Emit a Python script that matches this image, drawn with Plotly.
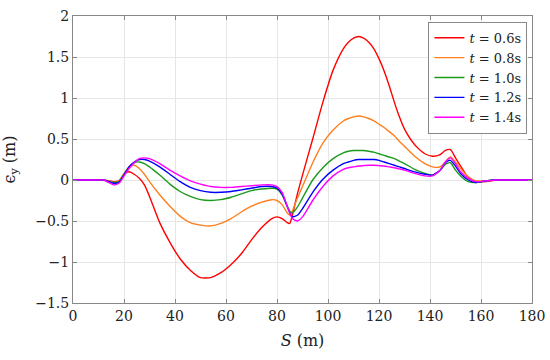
import plotly.graph_objects as go

S = [0, 10, 12, 14, 16, 18, 20, 22, 24, 26, 28, 30, 34, 38, 42, 46, 50, 54, 58, 62, 66, 70, 74, 78,
     80, 82, 84, 85, 86, 88, 90, 94, 98, 102, 106, 108, 110, 112, 114, 116, 118, 120, 122, 124, 126, 128, 130, 134, 138,
     141, 144, 146, 148, 150, 152, 155, 158, 162, 166, 170, 180]

e_06 = [0, 0, 0, -0.01, -0.02, -0.01, 0.07, 0.10, 0.07, 0.02, -0.06, -0.20, -0.52, -0.76, -0.96, -1.10, -1.19, -1.19, -1.13, -1.03, -0.90, -0.73, -0.58, -0.47,
        -0.45, -0.47, -0.52, -0.53, -0.43, -0.17, 0.06, 0.50, 0.95, 1.34, 1.60, 1.68, 1.73, 1.75, 1.73, 1.68, 1.60, 1.48, 1.33, 1.15, 0.95, 0.77, 0.62, 0.43, 0.32,
        0.29, 0.31, 0.36, 0.37, 0.27, 0.17, 0.03, -0.02, -0.02, 0, 0, 0]
e_08 = [0, 0, 0, -0.01, -0.03, -0.01, 0.08, 0.16, 0.18, 0.14, 0.07, -0.02, -0.18, -0.32, -0.44, -0.52, -0.55, -0.56, -0.53, -0.47, -0.39, -0.32, -0.27, -0.24,
        -0.25, -0.30, -0.40, -0.43, -0.38, -0.22, -0.08, 0.21, 0.45, 0.61, 0.72, 0.75, 0.77, 0.78, 0.77, 0.75, 0.72, 0.68, 0.64, 0.59, 0.54, 0.47, 0.41, 0.29, 0.20,
        0.16, 0.16, 0.22, 0.28, 0.22, 0.14, 0.04, -0.01, -0.01, 0, 0, 0]
e_10 = [0, 0, 0, -0.02, -0.03, -0.02, 0.07, 0.16, 0.21, 0.22, 0.20, 0.16, 0.06, -0.05, -0.14, -0.20, -0.24, -0.25, -0.24, -0.21, -0.17, -0.13, -0.11, -0.10,
        -0.11, -0.18, -0.32, -0.38, -0.40, -0.33, -0.22, 0.00, 0.15, 0.26, 0.33, 0.35, 0.36, 0.36, 0.36, 0.35, 0.34, 0.32, 0.30, 0.28, 0.26, 0.23, 0.20, 0.13, 0.08,
        0.06, 0.12, 0.19, 0.21, 0.12, 0.05, -0.02, -0.03, -0.01, 0, 0, 0]
e_12 = [0, 0, 0, -0.02, -0.04, -0.03, 0.06, 0.16, 0.22, 0.25, 0.25, 0.23, 0.16, 0.07, -0.02, -0.09, -0.13, -0.15, -0.15, -0.14, -0.12, -0.10, -0.08, -0.08,
        -0.10, -0.17, -0.32, -0.40, -0.45, -0.43, -0.35, -0.15, 0.01, 0.12, 0.20, 0.22, 0.24, 0.25, 0.25, 0.25, 0.25, 0.24, 0.22, 0.20, 0.18, 0.16, 0.14, 0.10, 0.07,
        0.06, 0.12, 0.21, 0.24, 0.17, 0.08, 0.00, -0.03, -0.01, 0, 0, 0]
e_14 = [0, 0, 0, -0.03, -0.06, -0.04, 0.05, 0.14, 0.21, 0.26, 0.27, 0.26, 0.20, 0.12, 0.05, -0.01, -0.05, -0.08, -0.09, -0.09, -0.08, -0.07, -0.06, -0.06,
        -0.08, -0.15, -0.32, -0.40, -0.47, -0.50, -0.45, -0.25, -0.08, 0.05, 0.13, 0.15, 0.16, 0.17, 0.175, 0.18, 0.18, 0.175, 0.17, 0.16, 0.15, 0.135, 0.12, 0.08, 0.05,
        0.05, 0.12, 0.22, 0.27, 0.20, 0.10, 0.02, -0.02, -0.01, 0, 0, 0]

series = [
    ("<i>t</i> = 0.6s", e_06, "#ff0000"),
    ("<i>t</i> = 0.8s", e_08, "#ff7f1e"),
    ("<i>t</i> = 1.0s", e_10, "#1c9a1c"),
    ("<i>t</i> = 1.2s", e_12, "#0000ff"),
    ("<i>t</i> = 1.4s", e_14, "#ff00ff"),
]

x_ticks = list(range(0, 181, 20))
y_ticks = [-1.5, -1, -0.5, 0, 0.5, 1, 1.5, 2]

fig = go.Figure()
for name, vals, col in series:
    fig.add_trace(go.Scatter(x=S, y=vals, mode="lines", name=name,
                             line=dict(color=col, width=1.4, shape="spline", smoothing=0.6)))

font_family = "DejaVu Serif, serif"
axis_common = dict(showline=True, linecolor="#888888", linewidth=1, mirror="ticks",
                   ticks="inside", ticklen=4, tickcolor="#888888", automargin=False,
                   showgrid=True, gridcolor="#e6e6e6", gridwidth=1, zeroline=False,
                   ticklabeloverflow="allow",
                   tickfont=dict(family=font_family, size=14, color="#222222"))

fig.update_layout(
    width=550, height=360,
    margin=dict(l=73, r=18, t=16, b=57),
    plot_bgcolor="white", paper_bgcolor="white",
    font=dict(family=font_family, size=14, color="#222222"),
    xaxis=dict(range=[0, 180], tickvals=x_ticks,
               title=dict(text="<i>S</i> (m)", font=dict(family=font_family, size=16), standoff=12),
               **axis_common),
    yaxis=dict(range=[-1.5, 2], tickvals=y_ticks,
               title=dict(text="ϵ<sub>y</sub> (m)", font=dict(family=font_family, size=16), standoff=16),
               **axis_common),
    legend=dict(x=0.99, y=0.98, xanchor="right", yanchor="top",
                bgcolor="white", bordercolor="#888888", borderwidth=1,
                font=dict(family=font_family, size=13, color="#222222"),
                tracegroupgap=0, itemwidth=30),
    showlegend=True,
)

# remove the page's default body margin so the figure fills the window exactly
fig.write_html("out.html", config={"displayModeBar": False},
               post_script="document.body.style.margin='0';")
